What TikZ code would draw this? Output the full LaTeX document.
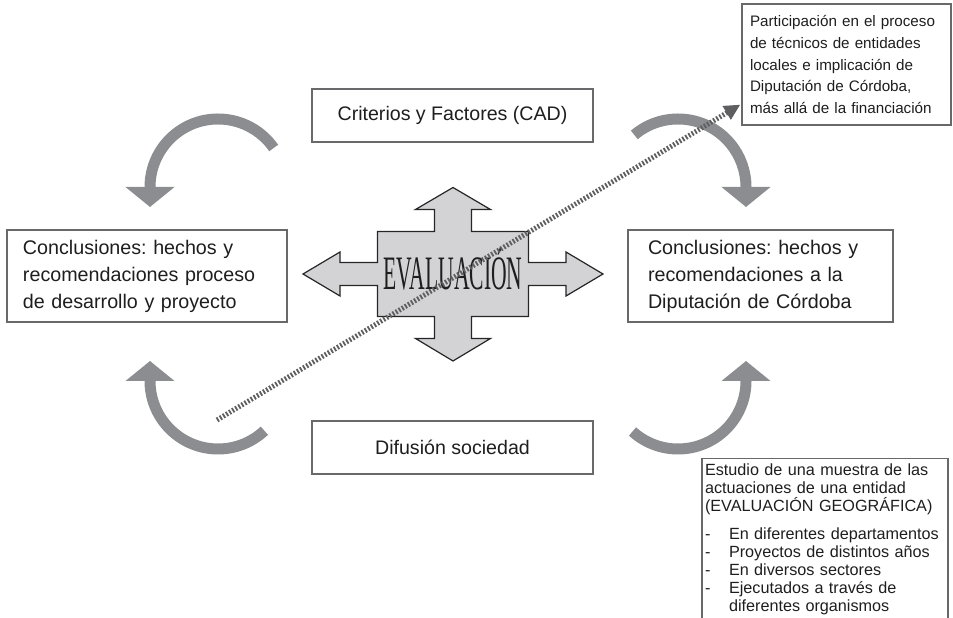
\documentclass[tikz,border=0pt]{standalone}
\usepackage{fontspec}
\setmainfont{Liberation Sans}
\newfontfamily\evalfont{Liberation Serif}
\usetikzlibrary{arrows.meta}
\definecolor{arcgray}{RGB}{140,141,145}
\definecolor{boxgray}{RGB}{105,105,107}
\definecolor{crossgray}{RGB}{211,211,213}
\definecolor{dotgray}{RGB}{95,95,97}
\definecolor{txt}{RGB}{30,30,30}
\frenchspacing

\begin{document}
\begin{tikzpicture}[x=1pt,y=1pt]
    \tikzstyle{turn} = [draw=arcgray, line width=11pt, -{Triangle[width=48pt,length=20pt]}]
    \tikzstyle{hint} = [draw=dotgray, line width=5pt, dash pattern=on 1.8pt off 1.8pt, -{Triangle[width=15pt,length=16pt]}]
       \tikzset{box/.style = {rectangle, draw=boxgray, line width=1.8pt, text=txt, inner sep=0pt}, }
       \tikzset{bigbox/.style = {box, align=left, minimum height=92pt, font=\fontsize{19.7}{27}\selectfont}, }
       \tikzset{smallbox/.style = {box, minimum width=281pt, minimum height=53pt, font=\fontsize{19.6}{24}\selectfont}, }
       \tikzset{note/.style = {box, align=left, line width=1.3pt}, }
       \useasboundingbox (0,0) rectangle (953,618);

       % cruz central
       \draw[fill=crossgray, draw=black!85, line width=1.2pt, shift={(453,344)}]
         (75.5,11.5) -- (113,11.5) -- (113,22) -- (150,0) -- (113,-22) -- (113,-11.5)
         -- (75.5,-11.5) -- (75.5,-42.5) -- (18.5,-42.5) -- (18.5,-64.5) -- (37.5,-64.5)
         -- (0,-87) -- (-37.5,-64.5) -- (-18.5,-64.5) -- (-18.5,-42.5) -- (-75.5,-42.5)
         -- (-75.5,-11.5) -- (-113,-11.5) -- (-113,-22) -- (-150,0) -- (-113,22)
         -- (-113,11.5) -- (-75.5,11.5) -- (-75.5,42.5) -- (-18.5,42.5) -- (-18.5,64.5)
         -- (-37.5,64.5) -- (0,86.5) -- (37.5,64.5) -- (18.5,64.5) -- (18.5,42.5)
         -- (75.5,42.5) -- cycle;
       \node[anchor=base, inner sep=0pt, text=txt] (eval) at (453,328)
         {\scalebox{0.45}[1]{\evalfont\fontsize{48}{48}\selectfont EVALUACIÓN}};

       \node[smallbox] (cad) at (452.5,502.5) {Criterios y Factores (CAD)};
       \node[smallbox] (difu) at (452.5,170.5) {Difusión sociedad};
       \node[bigbox, text width=248pt, inner xsep=16pt] (cleft) at (147,342)
         {Conclusiones: hechos y\\ recomendaciones proceso\\ de desarrollo y proyecto};
       \node[bigbox, text width=225pt, inner xsep=20pt] (cright) at (760.5,342)
         {Conclusiones: hechos y\\ recomendaciones a la\\ Diputación de Córdoba};

       \node[note, text width=193pt, inner xsep=8pt, minimum height=121pt,
             font=\fontsize{15.2}{21.7}\selectfont] (part) at (846.5,553.5)
         {Participación en el proceso\\ de técnicos de entidades\\ locales e implicación de\\
          Diputación de Córdoba,\\ más allá de la financiación};
       \node[note, anchor=north, text width=240pt, inner xsep=3pt, inner ysep=5pt,
             font=\fontsize{16.2}{18}\selectfont] (geo) at (825,160)
         {Estudio de una muestra de las\\ actuaciones de una entidad\\ (EVALUACIÓN GEOGRÁFICA)\\[10pt]
          \makebox[24pt][l]{-}En diferentes departamentos\\
          \makebox[24pt][l]{-}Proyectos de distintos años\\
          \makebox[24pt][l]{-}En diversos sectores\\
          \makebox[24pt][l]{-}Ejecutados a través de\\
          \hspace*{24pt}diferentes organismos};

       % flechas curvas
       \coordinate (ctl) at (218,431);
       \coordinate (ctr) at (678,431);
       \coordinate (cbl) at (218,237);
       \coordinate (cbr) at (678,237);
       \draw[turn] ([shift={(35:68pt)}]ctl) arc[start angle=35, end angle=180, radius=68pt] -- ++(0,-20);
       \draw[turn] ([shift={(130:68pt)}]ctr) arc[start angle=130, end angle=0, radius=68pt] -- ++(0,-20);
       \draw[turn] ([shift={(-47:68pt)}]cbl) arc[start angle=-47, end angle=-180, radius=68pt] -- ++(0,20);
       \draw[turn] ([shift={(-132:68pt)}]cbr) arc[start angle=-132, end angle=0, radius=68pt] -- ++(0,20);

       \coordinate (hs) at (217,198);
       \draw[hint] (hs) -- ([xshift=-1pt,yshift=21pt]part.south west);

\end{tikzpicture}
\end{document}
